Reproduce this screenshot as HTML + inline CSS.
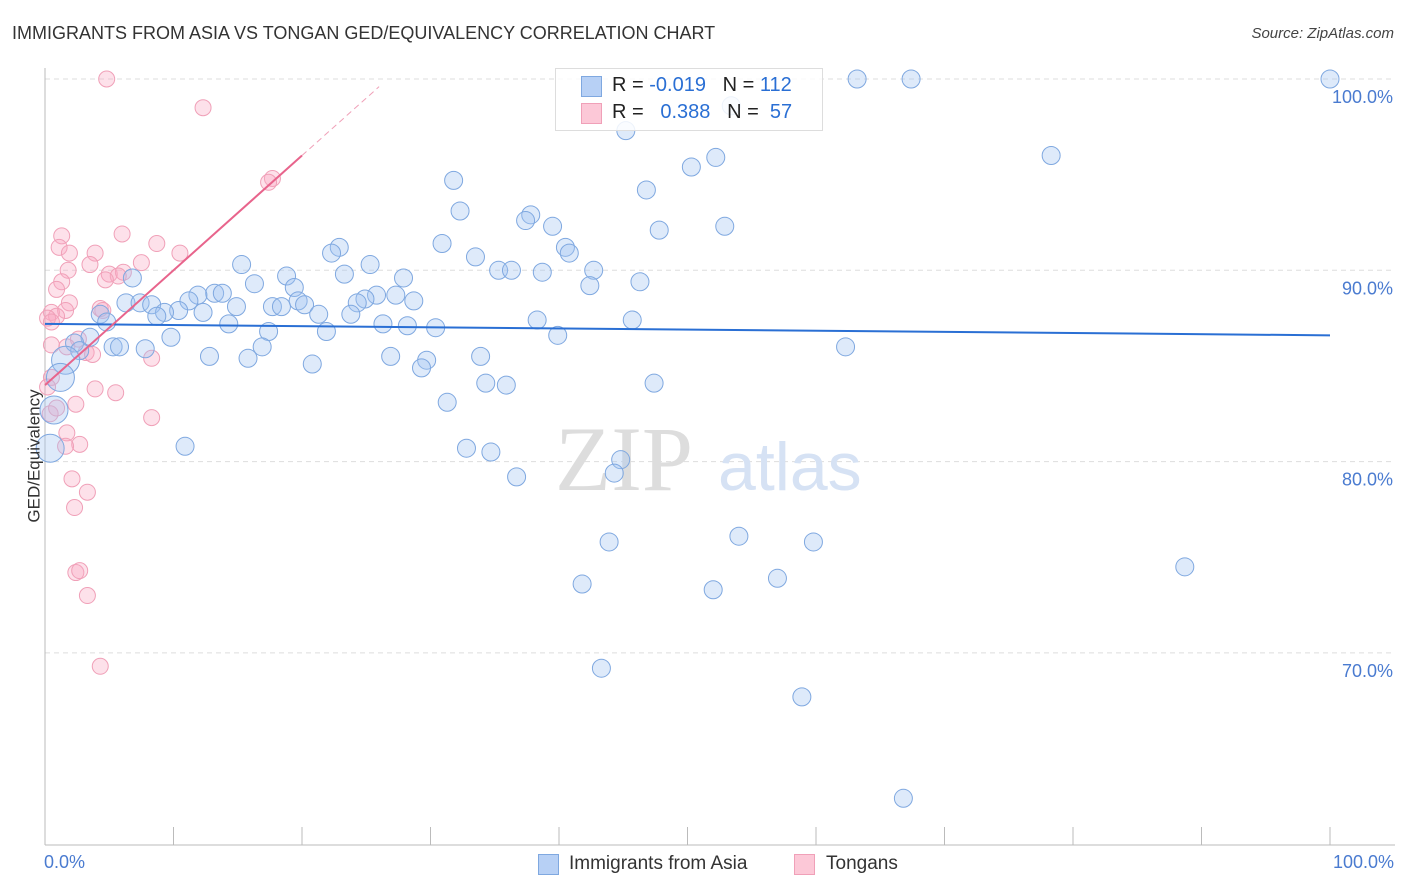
<!DOCTYPE html>
<html><head><meta charset="utf-8">
<style>
body{margin:0;background:#fff;font-family:"Liberation Sans",sans-serif;}
#c{position:relative;width:1406px;height:892px;overflow:hidden;}
.t{position:absolute;white-space:nowrap;}
</style></head>
<body>
<div id="c">
<div class="t" style="left:12px;top:23px;font-size:18px;color:#333;">IMMIGRANTS FROM ASIA VS TONGAN GED/EQUIVALENCY CORRELATION CHART</div>
<div class="t" style="right:12px;top:25px;font-size:15px;color:#444;font-style:italic;">Source: ZipAtlas.com</div>
<svg id="s" width="1406" height="892" style="position:absolute;left:0;top:0"></svg>
</div>
<script>
const blueX=[100,63.2,67.4,53.4,45.2,52.2,50.3,78.3,31.8,46.8,32.3,37.8,37.4,39.5,47.8,52.9,30.9,22.9,22.3,40.5,40.8,33.5,15.3,25.3,35.3,36.3,38.7,42.7,23.3,18.8,27.9,6.8,16.3,46.3,42.4,19.4,13.2,13.8,11.9,11.2,25.8,27.3,24.9,24.3,28.7,19.7,6.3,7.4,8.3,20.2,17.7,18.4,14.9,10.4,9.3,12.3,8.7,4.3,21.3,23.8,4.8,38.3,45.7,14.3,26.3,28.2,30.4,21.9,17.4,9.8,39.9,3.5,2.3,16.9,5.3,5.8,7.8,62.3,2.7,15.8,12.8,26.9,33.9,29.7,29.3,20.8,1.6,1.2,34.3,35.9,47.4,31.3,0.7,10.9,32.8,34.7,0.4,44.8,44.3,36.7,43.9,54.0,59.8,88.7,41.8,57.0,52.0,43.3,58.9,66.8];
const blueY=[100,100,100,98.6,97.3,95.9,95.4,96.0,94.7,94.2,93.1,92.9,92.6,92.3,92.1,92.3,91.4,91.2,90.9,91.2,90.9,90.7,90.3,90.3,90.0,90.0,89.9,90.0,89.8,89.7,89.6,89.6,89.3,89.4,89.2,89.1,88.8,88.8,88.7,88.4,88.7,88.7,88.5,88.3,88.4,88.4,88.3,88.3,88.2,88.2,88.1,88.1,88.1,87.9,87.8,87.8,87.6,87.7,87.7,87.7,87.3,87.4,87.4,87.2,87.2,87.1,87.0,86.8,86.8,86.5,86.6,86.5,86.2,86.0,86.0,86.0,85.9,86.0,85.8,85.4,85.5,85.5,85.5,85.3,84.9,85.1,85.3,84.4,84.1,84.0,84.1,83.1,82.7,80.8,80.7,80.5,80.7,80.1,79.4,79.2,75.8,76.1,75.8,74.5,73.6,73.9,73.3,69.2,67.7,62.4];
const blueBig=[86,87,92,96];
const pinkX=[4.8,12.3,17.7,17.4,1.3,6.0,8.7,1.1,1.9,3.9,10.5,7.5,3.5,1.8,5.0,6.1,5.7,4.7,1.3,0.9,1.9,4.3,4.5,1.6,0.5,0.9,0.2,0.5,2.6,0.5,1.7,3.2,3.7,8.3,0.5,0.2,3.9,5.5,2.4,8.3,0.4,1.7,2.7,1.6,2.1,3.3,2.3,2.4,2.7,3.3,4.3,0.9];
const pinkY=[100,98.5,94.8,94.6,91.8,91.9,91.4,91.2,90.9,90.9,90.9,90.4,90.3,90.0,89.8,89.9,89.7,89.5,89.4,89.0,88.3,88.0,87.9,87.9,87.8,87.6,87.5,87.3,86.4,86.1,86.0,85.7,85.6,85.4,84.4,83.9,83.8,83.6,83.0,82.3,82.5,81.5,80.9,80.8,79.1,78.4,77.6,74.2,74.3,73.0,69.3,82.8];
const blueTrend=[87.2,86.6];
const pinkTrend=[84.0,96.0,99.6];
const pinkTrendX=[0,20,26];
const yTicks=[100,90,80,70];
const yTickLabels=["100.0%","90.0%","80.0%","70.0%"];

const X=v=>45+v*12.85, Y=v=>79+(100-v)*19.13;
const s=document.getElementById('s');const NS='http://www.w3.org/2000/svg';
function mk(t,a,p){const e=document.createElementNS(NS,t);for(const k in a)e.setAttribute(k,a[k]);(p||s).appendChild(e);return e;}
yTicks.forEach((v,i)=>{
 const g=mk('line',{x1:45,x2:1395,y1:Y(v),y2:Y(v),stroke:'#ddd','stroke-dasharray':'5,4'});
 
 const t=mk('text',{x:1393,y:Y(v)+24,'text-anchor':'end','font-size':18,fill:'#4a7bd0','font-family':'Liberation Sans'});
 t.textContent=yTickLabels[i];
});
const ax=mk('line',{x1:45,x2:1395,y1:845,y2:845,stroke:'#bbb'});
const ay=mk('line',{x1:45,x2:45,y1:68,y2:845,stroke:'#bbb'});
for(let i=0;i<=10;i++){const tk=mk('line',{x1:X(i*10),x2:X(i*10),y1:827,y2:845,stroke:'#bbb'});}
const wm=mk('text',{x:555,y:490,'font-size':92,fill:'#ddd','font-family':'Liberation Serif'});wm.textContent='ZIP';
const wm2=mk('text',{x:718,y:490,'font-size':68,fill:'#d6e2f4','font-family':'Liberation Sans'});wm2.textContent='atlas';
pinkX.forEach((x,i)=>{const c=mk('circle',{cx:X(x),cy:Y(pinkY[i]),r:8,fill:'rgba(248,170,195,0.35)',stroke:'#f0a0b8','stroke-width':1});
 });
blueX.forEach((x,i)=>{const c=mk('circle',{cx:X(x),cy:Y(blueY[i]),r:blueBig.includes(i)?14:9,fill:'rgba(160,195,240,0.35)',stroke:'#7fa8e0','stroke-width':1});
 });
const bt=mk('line',{x1:X(0),y1:Y(blueTrend[0]),x2:X(100),y2:Y(blueTrend[1]),stroke:'#2a6fd4','stroke-width':2});

const pt=mk('line',{x1:X(pinkTrendX[0]),y1:Y(pinkTrend[0]),x2:X(pinkTrendX[1]),y2:Y(pinkTrend[1]),stroke:'#e8648c','stroke-width':2});

const pd=mk('line',{x1:X(pinkTrendX[1]),y1:Y(pinkTrend[1]),x2:X(pinkTrendX[2]),y2:Y(pinkTrend[2]),stroke:'#f0a0b8','stroke-width':1,'stroke-dasharray':'6,4'});

</script>
<div class="t" style="left:555px;top:68px;width:266px;height:61px;border:1px solid #ddd;background:rgba(255,255,255,0.85);"></div>
<div class="t" style="left:581px;top:76px;width:19px;height:19px;background:#b7d0f5;border:1px solid #7fa8e0;"></div>
<div class="t" style="left:581px;top:103px;width:19px;height:19px;background:#fcc8d7;border:1px solid #f0a0b8;"></div>
<div class="t" style="left:612px;top:74px;font-size:20px;color:#222;">R = <span style="color:#2a6fd4">-0.019</span>&nbsp;&nbsp;&nbsp;N = <span style="color:#2a6fd4">112</span></div>
<div class="t" style="left:612px;top:101px;font-size:20px;color:#222;">R = &nbsp;&nbsp;<span style="color:#2a6fd4">0.388</span>&nbsp;&nbsp;&nbsp;N = &nbsp;<span style="color:#2a6fd4">57</span></div>
<div class="t" style="left:-32px;top:446px;font-size:17px;color:#333;transform:rotate(-90deg);">GED/Equivalency</div>
<div class="t" style="left:44px;top:852px;font-size:18px;color:#4a7bd0;">0.0%</div>
<div class="t" style="right:12px;top:852px;font-size:18px;color:#4a7bd0;">100.0%</div>
<div class="t" style="left:538px;top:854px;width:19px;height:19px;background:#b7d0f5;border:1px solid #7fa8e0;"></div>
<div class="t" style="left:569px;top:853px;font-size:19px;color:#333;">Immigrants from Asia</div>
<div class="t" style="left:794px;top:854px;width:19px;height:19px;background:#fcc8d7;border:1px solid #f0a0b8;"></div>
<div class="t" style="left:826px;top:853px;font-size:19px;color:#333;">Tongans</div>
</body></html>
